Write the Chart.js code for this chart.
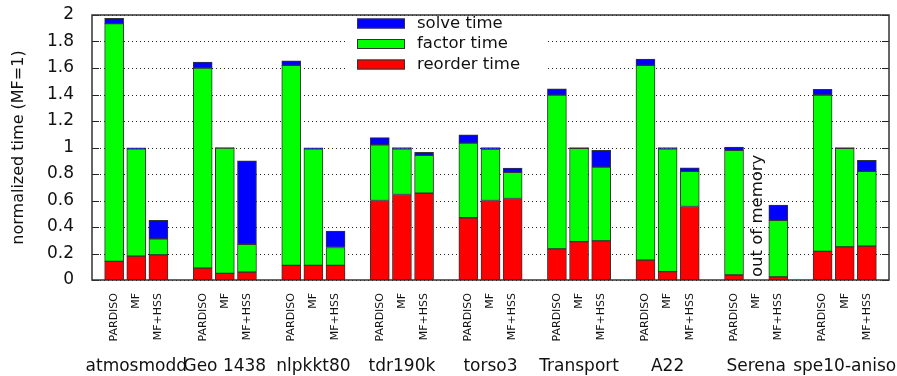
<!DOCTYPE html>
<html>
<head>
<meta charset="utf-8">
<script src="https://cdn.jsdelivr.net/npm/chart.js@4.4.1/dist/chart.umd.min.js"></script>
<style>
  body { margin: 0; background: #fff; }
  #wrap { width: 897px; height: 376px; }
</style>
</head>
<body>
<div id="wrap"><canvas id="my_chart"></canvas></div>
<script>
// Matrices (one group of bars each) and the three solvers
const groups = ['atmosmodd', 'Geo 1438', 'nlpkkt80', 'tdr190k', 'torso3', 'Transport', 'A22', 'Serena', 'spe10-aniso'];
const solvers = ['PARDISO', 'MF', 'MF+HSS'];

// Values per bar, in order group by group: PARDISO, MF, MF+HSS (null = no run)
const reorderTime = [0.14, 0.18, 0.19, 0.09, 0.05, 0.06, 0.11, 0.11, 0.11, 0.60, 0.645, 0.655, 0.47, 0.60, 0.615,
  0.235, 0.29, 0.295, 0.15, 0.063, 0.555, 0.038, null, 0.023, 0.216, 0.25, 0.256];
const factorTime = [1.795, 0.81, 0.12, 1.51, 0.945, 0.21, 1.51, 0.88, 0.135, 0.42, 0.345, 0.285, 0.563, 0.388, 0.197,
  1.16, 0.703, 0.557, 1.47, 0.927, 0.265, 0.94, null, 0.427, 1.18, 0.743, 0.564];
const solveTime = [0.04, 0.007, 0.14, 0.045, 0.005, 0.63, 0.035, 0.007, 0.125, 0.055, 0.01, 0.023, 0.063, 0.012, 0.033,
  0.048, 0.007, 0.126, 0.048, 0.01, 0.027, 0.025, null, 0.116, 0.043, 0.007, 0.083];

// y axis ticks
const yTicks = [0, 0.2, 0.4, 0.6, 0.8, 1, 1.2, 1.4, 1.6, 1.8, 2];

// the run that failed
const outOfMemory = { group: 'Serena', solver: 'MF', text: 'out of memory' };

Chart.defaults.font.family = 'DejaVu Sans';
Chart.defaults.color = '#111';

// Slots: one empty slot before each group and one at the end
const labels = [''];
const slotOf = [];
groups.forEach((g, gi) => {
  solvers.forEach((s, si) => {
    slotOf.push(labels.length);
    labels.push(s);
  });
  labels.push('');
});

function toSlots(values) {
  const out = labels.map(() => null);
  values.forEach((v, i) => { out[slotOf[i]] = v; });
  return out;
}

const data = {
  labels: labels,
  datasets: [
    { label: 'reorder time', data: toSlots(reorderTime), backgroundColor: '#ff0000' },
    { label: 'factor time', data: toSlots(factorTime), backgroundColor: '#00ff00' },
    { label: 'solve time', data: toSlots(solveTime), backgroundColor: '#0000ff' },
  ],
};

// dotted grid + inward ticks, drawn under the bars
const gridPlugin = {
  id: 'dottedGrid',
  beforeDatasetsDraw(chart) {
    const { ctx, chartArea: a, scales: { y } } = chart;
    ctx.save();
    ctx.strokeStyle = '#222';
    ctx.lineWidth = 1;
    yTicks.forEach(v => {
      const py = Math.round(y.getPixelForValue(v)) + 0.5;
      ctx.setLineDash([1, 3]);
      ctx.beginPath();
      ctx.moveTo(a.left, py);
      ctx.lineTo(a.right, py);
      ctx.stroke();
      ctx.setLineDash([]);
      ctx.beginPath();
      ctx.moveTo(a.left, py);
      ctx.lineTo(a.left + 7, py);
      ctx.moveTo(a.right - 7, py);
      ctx.lineTo(a.right, py);
      ctx.stroke();
    });
    ctx.restore();
  }
};

// legend box inside the plot, frame, group names, out-of-memory note
const decorPlugin = {
  id: 'decor',
  afterDatasetsDraw(chart) {
    const { ctx, chartArea: a, scales: { x } } = chart;
    ctx.save();

    // legend (top entry = top of stack)
    const lx = a.left + 255;
    ctx.fillStyle = '#fff';
    ctx.fillRect(lx, a.top + 1, 199, 57);
    const items = chart.data.datasets.slice().reverse();
    ctx.font = '16.5px "DejaVu Sans"';
    ctx.textBaseline = 'middle';
    items.forEach((ds, i) => {
      const cy = a.top + 8.5 + i * 20.5;
      ctx.fillStyle = ds.backgroundColor;
      ctx.fillRect(lx + 10, cy - 5, 48, 10);
      ctx.strokeStyle = '#333';
      ctx.lineWidth = 1;
      ctx.strokeRect(lx + 10.5, cy - 4.5, 47, 9);
      ctx.fillStyle = '#111';
      ctx.fillText(ds.label, lx + 70, cy);
    });

    // frame
    ctx.strokeStyle = '#333';
    ctx.lineWidth = 1.5;
    ctx.strokeRect(a.left, a.top, a.right - a.left, a.bottom - a.top);

    // group names under the MF bars
    ctx.fillStyle = '#111';
    ctx.font = '17px "DejaVu Sans"';
    ctx.textAlign = 'center';
    ctx.textBaseline = 'alphabetic';
    groups.forEach((g, gi) => {
      const px = x.getPixelForTick(slotOf[gi * 3 + 1]);
      ctx.fillText(g, px, a.bottom + 91);
    });

    // out of memory
    const idx = groups.indexOf(outOfMemory.group) * 3 + solvers.indexOf(outOfMemory.solver);
    const ox = x.getPixelForTick(slotOf[idx]);
    ctx.translate(ox + 2, a.bottom - 3);
    ctx.rotate(-Math.PI / 2);
    ctx.textAlign = 'left';
    ctx.textBaseline = 'middle';
    ctx.font = '16.5px "DejaVu Sans"';
    ctx.fillText(outOfMemory.text, 0, 0);
    ctx.restore();
  }
};

function noPad(scale) {
  scale.paddingLeft = 0;
  scale.paddingRight = 0;
  scale.paddingTop = 0;
  scale.paddingBottom = 0;
}

const config = {
  type: 'bar',
  data: data,
  options: {
    responsive: true,
    maintainAspectRatio: false,
    animation: false,
    layout: { padding: { left: 0, top: 15, right: 8, bottom: 0 } },
    datasets: {
      bar: {
        barThickness: 19,
        borderWidth: 1,
        borderColor: '#333',
        borderSkipped: false,
      }
    },
    plugins: {
      legend: { display: false },
      tooltip: { enabled: false },
    },
    scales: {
      x: {
        stacked: true,
        offset: false,
        grid: { display: false, offset: false },
        border: { display: false },
        ticks: {
          autoSkip: false,
          minRotation: 90,
          maxRotation: 90,
          padding: 5,
          font: { size: 11 },
        },
        afterFit(scale) { scale.height = 96; noPad(scale); },
      },
      y: {
        stacked: true,
        min: 0,
        max: 2,
        grid: { display: false },
        border: { display: false },
        afterBuildTicks(scale) { scale.ticks = yTicks.map(v => ({ value: v })); },
        ticks: {
          padding: 10,
          font: { size: 17 },
          callback: v => String(+v.toFixed(1)),
        },
        title: {
          display: true,
          text: 'normalized time (MF=1)',
          font: { size: 16 },
          padding: { top: 9, bottom: 0 },
        },
        afterFit(scale) { scale.width = 92; noPad(scale); },
      }
    }
  },
  plugins: [gridPlugin, decorPlugin],
};

const myChart = new Chart(document.getElementById('my_chart').getContext('2d'), config);
</script>
</body>
</html>
